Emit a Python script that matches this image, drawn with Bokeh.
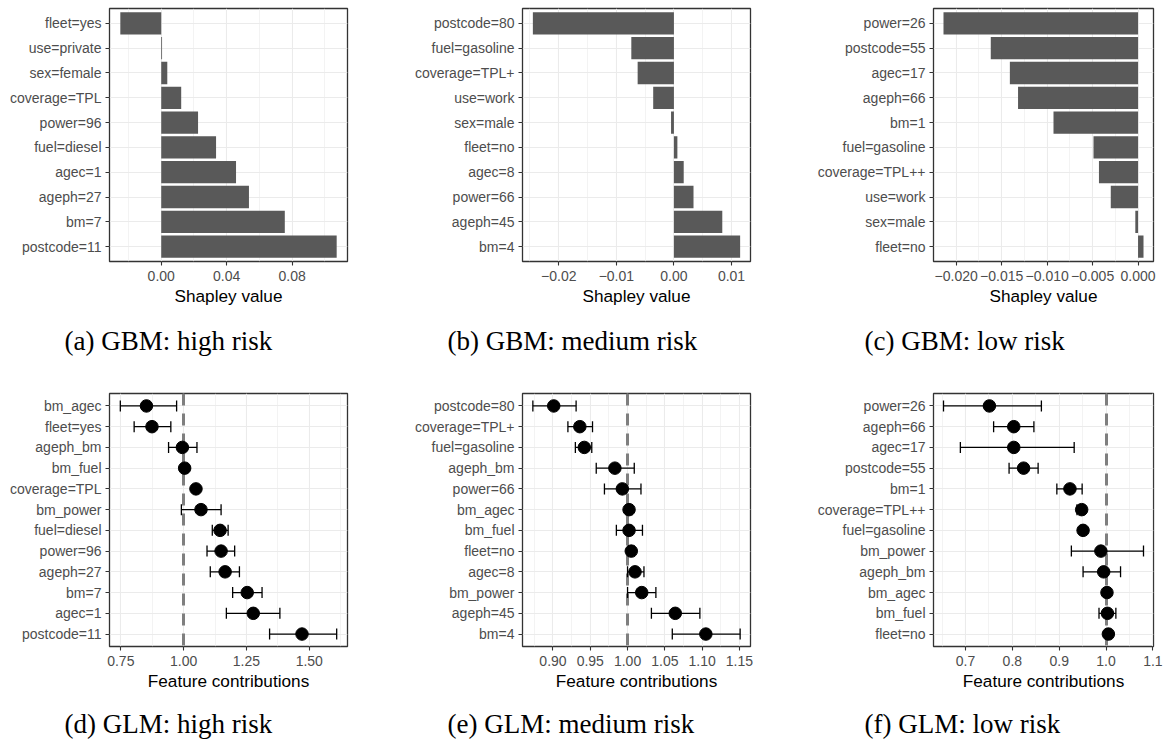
from bokeh.plotting import figure
from bokeh.models import FactorRange, Range1d, FixedTicker, Title
from bokeh.core.properties import value
from bokeh.layouts import column, row
from bokeh.embed import file_html
from bokeh.resources import INLINE

SANS = "Liberation Sans"
SERIF = "Liberation Serif"

# ---------------- data ----------------
# (a) GBM: high risk  (top to bottom)
a_features = ["fleet=yes", "use=private", "sex=female", "coverage=TPL", "power=96",
              "fuel=diesel", "agec=1", "ageph=27", "bm=7", "postcode=11"]
a_shap = [-0.0250, 0.0005, 0.0037, 0.0122, 0.0225, 0.0335, 0.0457, 0.0536, 0.0755, 0.1072]
a_ticks = [0.0, 0.04, 0.08]
a_tick_labels = ["0.00", "0.04", "0.08"]
a_minor = [-0.02, 0.02, 0.06, 0.10]

# (b) GBM: medium risk
b_features = ["postcode=80", "fuel=gasoline", "coverage=TPL+", "use=work", "sex=male",
              "fleet=no", "agec=8", "power=66", "ageph=45", "bm=4"]
b_shap = [-0.0245, -0.0074, -0.0063, -0.0036, -0.0005, 0.0006, 0.0017, 0.0034, 0.0084, 0.0115]
b_ticks = [-0.02, -0.01, 0.0, 0.01]
b_tick_labels = ["\u22120.02", "\u22120.01", "0.00", "0.01"]
b_minor = [-0.025, -0.015, -0.005, 0.005]

# (c) GBM: low risk
c_features = ["power=26", "postcode=55", "agec=17", "ageph=66", "bm=1", "fuel=gasoline",
              "coverage=TPL++", "use=work", "sex=male", "fleet=no"]
c_shap = [-0.0214, -0.0162, -0.0141, -0.0132, -0.0093, -0.0049, -0.0043, -0.0030, -0.0003, 0.0006]
c_ticks = [-0.02, -0.015, -0.01, -0.005, 0.0]
c_tick_labels = ["\u22120.020", "\u22120.015", "\u22120.010", "\u22120.005", "0.000"]
c_minor = [-0.0175, -0.0125, -0.0075, -0.0025]

# (d) GLM: high risk
d_features = ["bm_agec", "fleet=yes", "ageph_bm", "bm_fuel", "coverage=TPL", "bm_power",
              "fuel=diesel", "power=96", "ageph=27", "bm=7", "agec=1", "postcode=11"]
d_est = [0.852, 0.874, 0.995, 1.004, 1.049, 1.069, 1.145, 1.149, 1.165, 1.253, 1.277, 1.471]
d_lo = [0.748, 0.803, 0.940, 0.994, 1.041, 0.991, 1.114, 1.093, 1.106, 1.195, 1.170, 1.342]
d_hi = [0.972, 0.949, 1.053, 1.013, 1.057, 1.149, 1.177, 1.203, 1.222, 1.312, 1.383, 1.609]
d_ticks = [0.75, 1.0, 1.25, 1.5]
d_tick_labels = ["0.75", "1.00", "1.25", "1.50"]
d_minor = [0.875, 1.125, 1.375, 1.625]

# (e) GLM: medium risk
e_features = ["postcode=80", "coverage=TPL+", "fuel=gasoline", "ageph_bm", "power=66", "bm_agec",
              "bm_fuel", "fleet=no", "agec=8", "bm_power", "ageph=45", "bm=4"]
e_est = [0.901, 0.936, 0.942, 0.983, 0.993, 1.002, 1.002, 1.005, 1.010, 1.019, 1.064, 1.105]
e_lo = [0.873, 0.920, 0.930, 0.958, 0.969, 0.998, 0.985, 1.001, 1.000, 1.000, 1.032, 1.060]
e_hi = [0.931, 0.953, 0.952, 1.009, 1.018, 1.006, 1.020, 1.009, 1.022, 1.038, 1.097, 1.151]
e_ticks = [0.90, 0.95, 1.00, 1.05, 1.10, 1.15]
e_tick_labels = ["0.90", "0.95", "1.00", "1.05", "1.10", "1.15"]
e_minor = [0.875, 0.925, 0.975, 1.025, 1.075, 1.125]

# (f) GLM: low risk
f_features = ["power=26", "ageph=66", "agec=17", "postcode=55", "bm=1", "coverage=TPL++",
              "fuel=gasoline", "bm_power", "ageph_bm", "bm_agec", "bm_fuel", "fleet=no"]
f_est = [0.751, 0.803, 0.803, 0.824, 0.923, 0.948, 0.951, 0.989, 0.995, 1.002, 1.003, 1.005]
f_lo = [0.653, 0.760, 0.689, 0.793, 0.895, 0.938, 0.946, 0.926, 0.951, 0.998, 0.985, 1.001]
f_hi = [0.862, 0.846, 0.932, 0.855, 0.949, 0.954, 0.954, 1.080, 1.031, 1.006, 1.021, 1.009]
f_ticks = [0.7, 0.8, 0.9, 1.0, 1.1]
f_tick_labels = ["0.7", "0.8", "0.9", "1.0", "1.1"]
f_minor = [0.65, 0.75, 0.85, 0.95, 1.05]

top_captions = ["(a) GBM: high risk", "(b) GBM: medium risk", "(c) GBM: low risk"]
bottom_captions = ["(d) GLM: high risk", "(e) GLM: medium risk", "(f) GLM: low risk"]

# ---------------- layout constants ----------------
COLS = [  # width, min_border_left, min_border_right, caption offset
    (400, 109, 53, -45),
    (390, 122, 40, -75),
    (374, 143, 11, -69),
]
TOP = dict(height=392, top=8, bottom=131, standoff=31)
BOT = dict(height=304, top=1, bottom=50)
STRIP_H = 43
STRIP_BASELINE = 16
TOTAL_W = sum(c[0] for c in COLS)


def expand(lo_vals, hi_vals, with_zero=False):
    lo, hi = min(lo_vals), max(hi_vals)
    if with_zero:
        lo, hi = min(lo, 0.0), max(hi, 0.0)
    pad = 0.05 * (hi - lo)
    return lo - pad, hi + pad


def base_fig(features, xlim, ticks, tick_labels, minor, col, rowspec, xlabel, caption=None):
    width, bl, br, cap_off = col
    n = len(features)
    p = figure(width=width, height=rowspec["height"], output_backend="svg",
               toolbar_location=None,
               y_range=FactorRange(factors=list(reversed(features)), range_padding=0.2 / n),
               x_range=Range1d(*xlim),
               min_border_left=bl, min_border_right=br, min_border_top=rowspec["top"],
               min_border_bottom=rowspec["bottom"])
    p.background_fill_color = "white"
    p.border_fill_color = "white"
    p.outline_line_color = "#333333"
    p.outline_line_width = 1.3

    ticker = FixedTicker(ticks=ticks, minor_ticks=minor)
    p.xaxis.ticker = ticker
    p.xgrid.ticker = ticker
    p.xaxis.major_label_overrides = {t: l for t, l in zip(ticks, tick_labels)}

    for ax in (p.xaxis, p.yaxis):
        ax.axis_line_color = None
        ax.major_tick_line_color = "#333333"
        ax.major_tick_line_width = 1.1
        ax.major_tick_in = 0
        ax.major_tick_out = 4
        ax.minor_tick_line_color = None
        ax.major_label_text_font = SANS
        ax.major_label_text_font_size = "14px"
        ax.major_label_text_color = "#4D4D4D"
    p.yaxis.major_label_standoff = 4
    p.xaxis.major_label_standoff = 5

    p.xaxis.axis_label = xlabel
    p.xaxis.axis_label_text_font = SANS
    p.xaxis.axis_label_text_font_size = "17.2px"
    p.xaxis.axis_label_text_font_style = "normal"
    p.xaxis.axis_label_text_color = "black"
    p.xaxis.axis_label_standoff = 2

    p.xgrid.grid_line_color = "#EBEBEB"
    p.xgrid.grid_line_width = 1.1
    p.xgrid.minor_grid_line_color = "#EBEBEB"
    p.xgrid.minor_grid_line_width = 0.6
    p.ygrid.grid_line_color = "#EBEBEB"
    p.ygrid.grid_line_width = 1.1

    if caption is not None:
        p.add_layout(Title(text=caption, align="left", offset=cap_off,
                           text_font=SERIF, text_font_size="27px",
                           text_font_style="normal", text_color="black",
                           standoff=rowspec["standoff"]), "below")
    return p


def bar_fig(features, vals, ticks, tick_labels, minor, col, caption):
    p = base_fig(features, expand(vals, vals, True), ticks, tick_labels, minor, col,
                 TOP, "Shapley value", caption)
    p.hbar(y=features, left=0, right=vals, height=0.9,
           fill_color="#595959", line_color=None)
    return p


def err_fig(features, est, lo, hi, ticks, tick_labels, minor, col):
    p = base_fig(features, expand(lo, hi), ticks, tick_labels, minor, col,
                 BOT, "Feature contributions")
    p.vspan(x=[1.0], line_color="#7F7F7F", line_width=3, line_dash="12 8")
    p.segment(x0=lo, y0=features, x1=hi, y1=features, line_color="black", line_width=1.3)
    p.scatter(x=lo + hi, y=features + features, marker="dash", angle=1.5707963,
              size=11, line_color="black", line_width=1.3)
    p.scatter(x=est, y=features, marker="circle", size=12.5,
              fill_color="black", line_color="black")
    return p


pa = bar_fig(a_features, a_shap, a_ticks, a_tick_labels, a_minor, COLS[0], top_captions[0])
pb = bar_fig(b_features, b_shap, b_ticks, b_tick_labels, b_minor, COLS[1], top_captions[1])
pc = bar_fig(c_features, c_shap, c_ticks, c_tick_labels, c_minor, COLS[2], top_captions[2])
pd_ = err_fig(d_features, d_est, d_lo, d_hi, d_ticks, d_tick_labels, d_minor, COLS[0])
pe = err_fig(e_features, e_est, e_lo, e_hi, e_ticks, e_tick_labels, e_minor, COLS[1])
pf = err_fig(f_features, f_est, f_lo, f_hi, f_ticks, f_tick_labels, f_minor, COLS[2])

# caption strip for the bottom row (same horizontal placement as the top captions)
cap_x = []
x0 = 0
for w, bl, br, off in COLS:
    cap_x.append(x0 + bl + off)
    x0 += w
strip = figure(width=TOTAL_W, height=STRIP_H, output_backend="svg", toolbar_location=None,
               x_range=Range1d(0, TOTAL_W), y_range=Range1d(0, STRIP_H),
               x_axis_type=None, y_axis_type=None, min_border=0)
strip.outline_line_color = None
strip.background_fill_color = "white"
strip.border_fill_color = "white"
strip.text(x=cap_x, y=[STRIP_BASELINE] * len(cap_x), text=bottom_captions,
           text_font=value(SERIF), text_font_size="27px", text_color="black",
           text_align="left", text_baseline="alphabetic")

layout = column(row(pa, pb, pc, spacing=0), row(pd_, pe, pf, spacing=0), strip, spacing=0)

with open("out.html", "w") as fh:
    fh.write(file_html(layout, INLINE))
